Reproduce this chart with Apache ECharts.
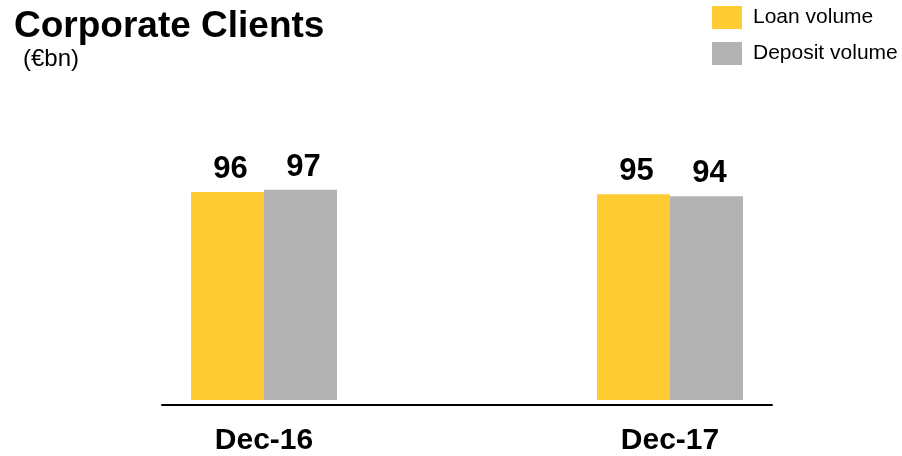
<!DOCTYPE html>
<html>
<head>
<meta charset="utf-8">
<script src="https://cdn.jsdelivr.net/npm/echarts@6/dist/echarts.min.js"></script>
<style>
html,body{margin:0;padding:0;background:#fff;}
#chart{width:902px;height:456px;}
</style>
</head>
<body>
<div id="chart"></div>
<script>
var categories = ['Dec-16', 'Dec-17'];
var loanVolume = [96, 95];
var depositVolume = [97, 94];
var seriesNames = ['Loan volume', 'Deposit volume'];
var titleText = 'Corporate Clients';
var subtitleText = '(€bn)';

var FONT = '"Liberation Sans", Arial, Helvetica, sans-serif';
var chart = echarts.init(document.getElementById('chart'));
var labelCfg = {
  show: true, position: 'top', distance: 7, offset: [3, 0],
  fontFamily: FONT, fontSize: 31, fontWeight: 'bold', color: '#000'
};
chart.setOption({
  backgroundColor: '#fff',
  animation: false,
  title: [
    { text: titleText, left: 14, top: 8, padding: 0,
      textStyle: { fontFamily: FONT, fontSize: 37, fontWeight: 'bold', color: '#000' } },
    { text: subtitleText, left: 23, top: 47, padding: 0,
      textStyle: { fontFamily: FONT, fontSize: 24, fontWeight: 'normal', color: '#000' } }
  ],
  legend: {
    orient: 'vertical', left: 712, top: 6, padding: 0,
    itemWidth: 30, itemHeight: 23, itemGap: 13,
    icon: 'rect',
    textStyle: { fontFamily: FONT, fontSize: 21, color: '#000', padding: [0, 0, 0, 6] },
    data: seriesNames
  },
  grid: [
    { left: 61, right: 29, top: 75, bottom: 51 },
    { left: 162, width: 610, top: 75, bottom: 51 }
  ],
  xAxis: [
    { type: 'category', gridIndex: 0, data: categories,
      axisLine: { show: false }, axisTick: { show: false },
      axisLabel: { margin: 26, fontFamily: FONT, fontSize: 30, fontWeight: 'bold', color: '#000' } },
    { type: 'value', gridIndex: 1, min: 0, max: 1,
      axisLine: { show: true, onZero: false, lineStyle: { color: '#000', width: 2 } },
      axisTick: { show: false }, axisLabel: { show: false }, splitLine: { show: false } }
  ],
  yAxis: [
    { type: 'value', gridIndex: 0, min: 0, max: 150, show: false, splitLine: { show: false } },
    { type: 'value', gridIndex: 1, min: 0, max: 1, show: false, splitLine: { show: false } }
  ],
  series: [
    { name: seriesNames[0], type: 'bar', data: loanVolume, barWidth: 73, barGap: '0%',
      itemStyle: { color: '#FFCC33' }, label: labelCfg },
    { name: seriesNames[1], type: 'bar', data: depositVolume, barWidth: 73, barGap: '0%',
      itemStyle: { color: '#B3B3B3' }, label: labelCfg }
  ]
});
</script>
</body>
</html>
